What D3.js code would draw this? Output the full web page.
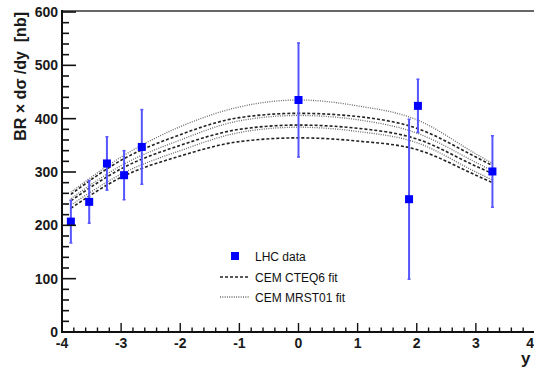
<!DOCTYPE html>
<html><head><meta charset="utf-8">
<script src="https://cdn.jsdelivr.net/npm/d3@7"></script>
<style>body{margin:0;background:#fff}svg{display:block}</style>
</head><body><svg id="c" width="534" height="369"></svg>
<script>
// data points (rapidity, value, error)
const dataY = [-3.85, -3.54, -3.24, -2.95, -2.65, 0.0, 1.87, 2.02, 3.28];
const dataV = [207, 244, 316, 294, 347, 435, 249, 424, 301];
const dataE = [40, 40, 50, 46, 70, 107, 150, 50, 67];
// fit curves sampled at these rapidities
const curveX = [-3.85, -3, -2, -1, 0, 1, 2, 3, 3.28];
const cteqUpper = [258, 322, 370, 402, 410, 404, 382, 328, 312];
const cteqCentral = [246, 306, 350, 380, 388, 382, 362, 311, 297];
const cteqLower = [232, 290, 330, 357, 364, 358, 342, 294, 280];
const mrstUpper = [262, 328, 385, 422, 435, 424, 398, 334, 316];
const mrstCentral = [250, 312, 360, 396, 406, 398, 373, 318, 302];
const mrstLower = [238, 296, 340, 374, 384, 376, 355, 300, 285];
const xTicks = [-4, -3, -2, -1, 0, 1, 2, 3, 4];
const yTicks = [0, 100, 200, 300, 400, 500, 600];
const legendLabels = ["LHC data", "CEM CTEQ6 fit", "CEM MRST01 fit"];

const svg = d3.select("#c");
const L = 62, R = 535, T = 12, B = 332;
const x = d3.scaleLinear().domain([-4, 4]).range([L, R]);
const y = d3.scaleLinear().domain([0, 600]).range([B, T]);
const font = "'Liberation Sans', Arial, sans-serif";

// curves
const line = d3.line().x(d => x(d[0])).y(d => y(d[1])).curve(d3.curveMonotoneX);
const mk = arr => curveX.map((v, i) => [v, arr[i]]);
[mrstUpper, mrstCentral, mrstLower].forEach(a => {
  svg.append("path").attr("d", line(mk(a))).attr("fill", "none")
    .attr("stroke", "#6a6a6a").attr("stroke-width", 1.3).attr("stroke-dasharray", "1,1.3");
});
[cteqUpper, cteqCentral, cteqLower].forEach(a => {
  svg.append("path").attr("d", line(mk(a))).attr("fill", "none")
    .attr("stroke", "#222").attr("stroke-width", 1.6).attr("stroke-dasharray", "3,2");
});

// error bars and markers
const g = svg.append("g");
dataY.forEach((xv, i) => {
  const v = dataV[i], e = dataE[i];
  g.append("line").attr("x1", x(xv)).attr("x2", x(xv)).attr("y1", y(v - e)).attr("y2", y(v + e))
    .attr("stroke", "#5555ff").attr("stroke-width", 2);
  [v - e, v + e].forEach(t => g.append("line").attr("x1", x(xv) - 1.5).attr("x2", x(xv) + 1.5)
    .attr("y1", y(t)).attr("y2", y(t)).attr("stroke", "#5555ff").attr("stroke-width", 1.5));
  g.append("rect").attr("x", x(xv) - 4).attr("y", y(v) - 4).attr("width", 8).attr("height", 8)
    .attr("fill", "#0000ff");
});

// frame
svg.append("line").attr("x1", L).attr("x2", 534).attr("y1", T - 1).attr("y2", T - 1)
  .attr("stroke", "#666").attr("stroke-width", 2);
svg.append("line").attr("x1", L).attr("x2", L).attr("y1", T - 2).attr("y2", B + 1)
  .attr("stroke", "#111").attr("stroke-width", 2);
svg.append("line").attr("x1", L - 1).attr("x2", 534).attr("y1", B).attr("y2", B)
  .attr("stroke", "#111").attr("stroke-width", 2);

// y ticks
for (let v = 0; v <= 600; v += 20) {
  const major = v % 100 === 0;
  svg.append("line").attr("x1", L).attr("x2", L + (major ? 14 : 7))
    .attr("y1", y(v)).attr("y2", y(v)).attr("stroke", "#111").attr("stroke-width", 1.6);
}
yTicks.forEach(v => svg.append("text").attr("x", L - 4).attr("y", y(v) + 5)
  .attr("text-anchor", "end").attr("font-family", font).attr("font-size", 14)
  .attr("font-weight", "bold").attr("fill", "#1a1a1a").text(v));

// x ticks
for (let k = -40; k <= 40; k += 2) {
  const v = k / 10, major = k % 10 === 0;
  svg.append("line").attr("x1", x(v)).attr("x2", x(v)).attr("y1", B)
    .attr("y2", B - (major ? 9 : 4.5)).attr("stroke", "#111").attr("stroke-width", 1.4);
}
xTicks.forEach(v => svg.append("text").attr("x", v === 4 ? 534 : x(v)).attr("y", B + 16)
  .attr("text-anchor", v === 4 ? "end" : "middle").attr("font-family", font).attr("font-size", 14)
  .attr("font-weight", "bold").attr("fill", "#1a1a1a").text(v));

// axis titles
svg.append("text").attr("transform", `translate(26,${T}) rotate(-90)`)
  .attr("text-anchor", "end").attr("font-family", font).attr("font-size", 16)
  .attr("font-weight", "bold").attr("fill", "#1a1a1a").style("white-space", "pre")
  .text("BR × dσ /dy  [nb]");
svg.append("text").attr("x", 521).attr("y", 364).attr("font-family", font)
  .attr("font-size", 17).attr("font-weight", "bold").attr("fill", "#1a1a1a").text("y");

// legend
const lx = 220, ly = [256, 277, 297];
svg.append("rect").attr("x", 231).attr("y", ly[0] - 4).attr("width", 8).attr("height", 8).attr("fill", "#0000ff");
svg.append("line").attr("x1", lx).attr("x2", 249).attr("y1", ly[1]).attr("y2", ly[1])
  .attr("stroke", "#222").attr("stroke-width", 1.6).attr("stroke-dasharray", "3,2");
svg.append("line").attr("x1", lx).attr("x2", 249).attr("y1", ly[2]).attr("y2", ly[2])
  .attr("stroke", "#6a6a6a").attr("stroke-width", 1.3).attr("stroke-dasharray", "1,1.3");
legendLabels.forEach((t, i) => svg.append("text").attr("x", 255).attr("y", ly[i] + 4.5)
  .attr("font-family", font).attr("font-size", 12).attr("fill", "#111").text(t));
</script></body></html>
